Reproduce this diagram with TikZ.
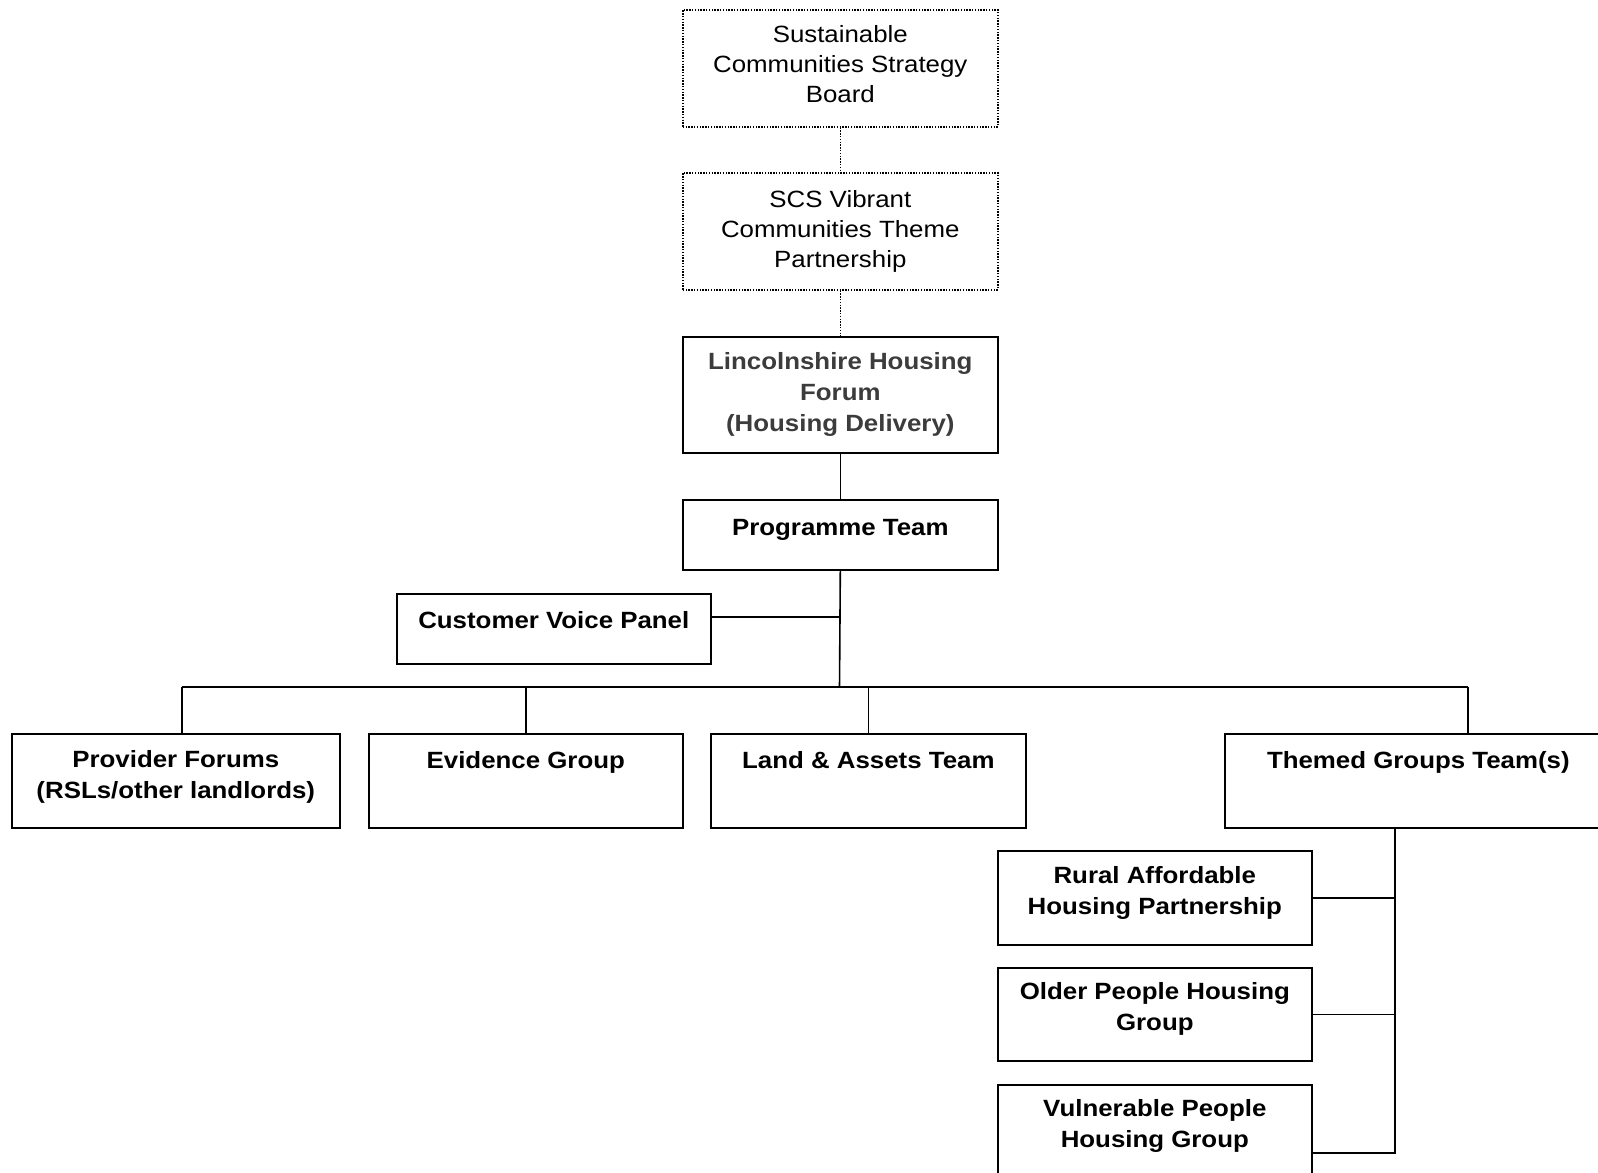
\documentclass[tikz,border=0pt]{standalone}
\usepackage{fontspec}
\setmainfont{Liberation Sans}[FakeStretch=1.1]
\definecolor{lhf}{HTML}{3C3C3C}
\begin{document}
\begin{tikzpicture}[x=0.5pt,y=-0.5pt,
 box/.style={draw, line width=0.8pt, anchor=north west, inner sep=0, minimum width=157.5pt, minimum height=47pt},
 dbox/.style={box, dash pattern=on 0.7pt off 0.7pt},
 txt/.style={anchor=base, align=center, inner sep=0, font=\fontsize{11.75}{15}\selectfont},
 btxt/.style={txt, font=\fontsize{11.75}{15.4}\selectfont\bfseries},
 link/.style={line width=0.8pt},
 dlink/.style={line width=0.8pt, dash pattern=on 0.7pt off 0.7pt}]
\fill[white] (0,0) rectangle (1598,1172);
\path[use as bounding box] (0,0) rectangle (1598,1172);
\clip (0,0) rectangle (1598,1172);

% boxes
\node[dbox, minimum height=58.5pt] (b1) at (682,9) {};
\node[dbox, minimum height=58.5pt] (b2) at (682,172) {};
\node[box, minimum height=58pt] (b3) at (682,336) {};
\node[box, minimum height=35pt] (prog) at (682,499) {};
\node[box, minimum width=157pt, minimum height=35pt] (cvp) at (396,593) {};
\node[box, minimum width=164pt] (prov) at (11,733) {};
\node[box, minimum width=157pt] (evid) at (368,733) {};
\node[box, minimum width=157.5pt] (land) at (710,733) {};
\node[box, minimum width=193.5pt] (them) at (1224,733) {};
\node[box, minimum width=157pt] (rural) at (997,850) {};
\node[box, minimum width=157pt, minimum height=46.5pt] (older) at (997,967) {};
\node[box, minimum width=157pt] (vuln) at (997,1084) {};

% texts (anchor base = baseline of last line)
\node[txt] (t1) at ([yshift=-47pt]b1.north) {Sustainable\\Communities Strategy\\Board};
\node[txt] (t2) at ([yshift=-47.5pt]b2.north) {SCS Vibrant\\Communities Theme\\Partnership};
\node[btxt, text=lhf] (t3) at ([yshift=-47.6pt]b3.north) {Lincolnshire Housing\\Forum\\(Housing Delivery)};
\node[btxt] (tprog) at ([yshift=-18pt]prog.north) {Programme Team};
\node[btxt] (tcvp) at ([yshift=-17.5pt]cvp.north) {Customer Voice Panel};
\node[btxt] (tprov) at ([yshift=-32.6pt]prov.north) {Provider Forums\\(RSLs/other landlords)};
\node[btxt] (tevid) at ([yshift=-17.5pt]evid.north) {Evidence Group};
\node[btxt] (tland) at ([yshift=-17.5pt]land.north) {Land \& Assets Team};
\node[btxt] (tthem) at ([yshift=-17.5pt]them.north) {Themed Groups Team(s)};
\node[btxt] (trural) at ([yshift=-32.3pt]rural.north) {Rural Affordable\\Housing Partnership};
\node[btxt] (tolder) at ([yshift=-31.8pt]older.north) {Older People Housing\\Group};
\node[btxt] (tvuln) at ([yshift=-31.8pt]vuln.north) {Vulnerable People\\Housing Group};

% coordinates
\coordinate (trunk) at (839.5,687);
\coordinate (cvpconn) at (710,617);
\coordinate (busL) at (182,687);
\coordinate (busR) at (1468,687);
\coordinate (dprov) at (182,733);
\coordinate (dthem) at (1468,733);
\coordinate (tdown) at (1395,827);
\coordinate (tend) at (1395,1153);
\coordinate (vconn) at (1311,1153);

% connectors
\draw[dlink] (b1.south) -- (b2.north);
\draw[dlink] (b2.south) -- (b3.north);
\draw[link] (b3.south) -- (prog.north);
\draw[link] (prog.south) -- (trunk);
\draw[link] (cvpconn) -- (prog.south |- cvpconn);
\draw[link] (busL) -- (busR);
\draw[link] (busL) -- (dprov);
\draw[link] (evid.north |- trunk) -- (evid.north);
\draw[link] (land.north |- trunk) -- (land.north);
\draw[link] (busR) -- (dthem);
\draw[link] (tdown) -- (tend) -- (vconn);
\draw[link] (rural.east) -- (rural.east -| tdown);
\draw[link] (older.east) -- (older.east -| tdown);
\end{tikzpicture}
\end{document}
